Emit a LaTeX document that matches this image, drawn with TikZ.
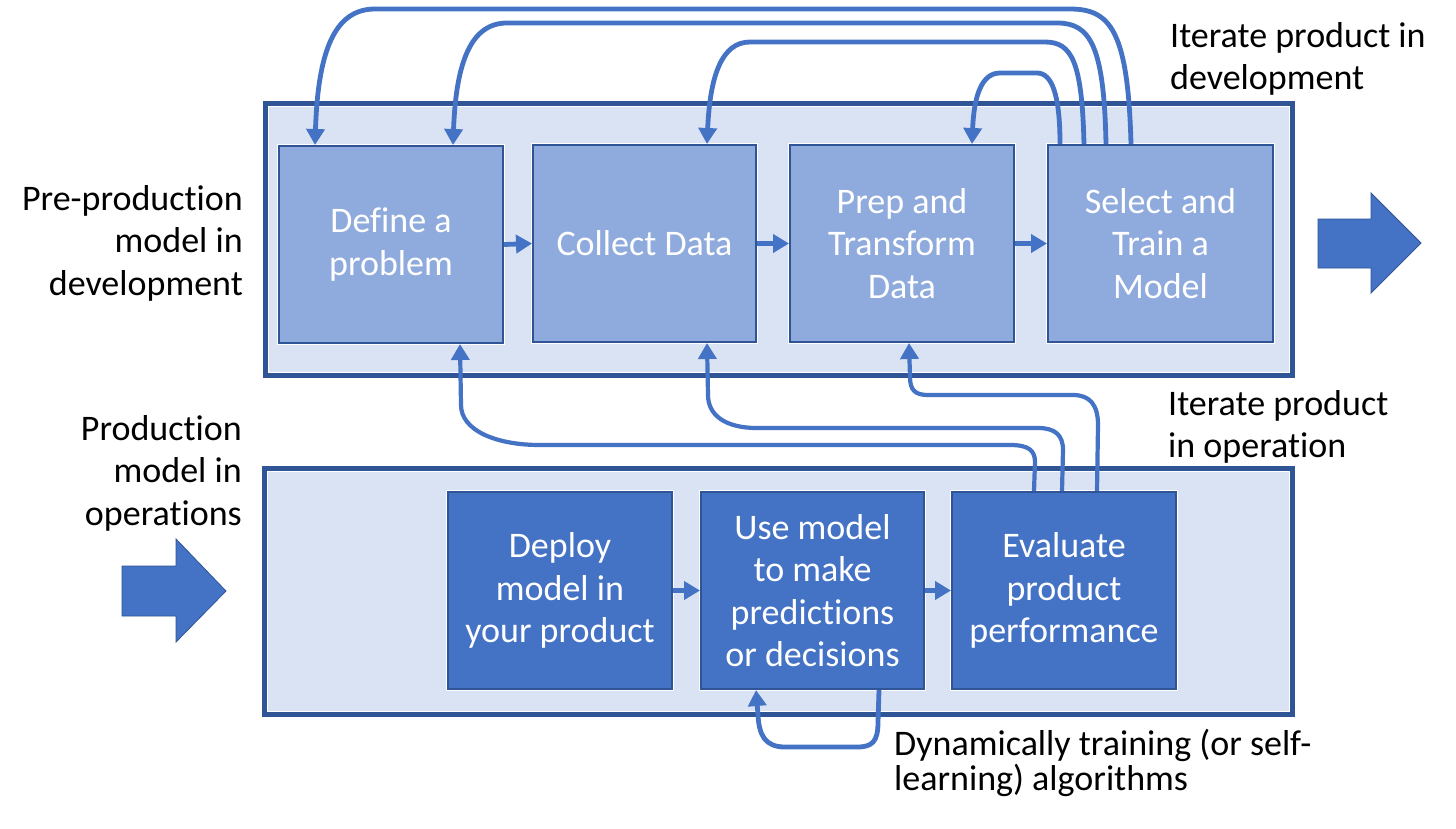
\documentclass[tikz,border=0pt]{standalone}
\usepackage{fontspec}
\setmainfont{Carlito}[Ligatures={NoCommon}]
\usetikzlibrary{arrows.meta,calc}
\definecolor{bgl}{HTML}{DAE3F3}
\definecolor{dkb}{HTML}{2F5597}
\definecolor{midb}{HTML}{8FAADC}
\definecolor{acc}{HTML}{4472C4}
\tikzset{
  txt/.style={font=\fontsize{36}{42.5}\selectfont, inner sep=0pt},
  txttight/.style={font=\fontsize{36}{35.5}\selectfont, inner sep=0pt},
  topbox/.style={txt, draw=dkb, line width=2pt, fill=midb, text=white, align=center,
     minimum width=224pt, minimum height=197pt,
     preaction={draw=white, line width=4pt}},
  botbox/.style={topbox, fill=acc},
  conn/.style={draw=acc, line width=4.8pt, -{Triangle[width=18pt,length=16pt]}},
  connb/.style={conn, line width=4.2pt},
  outer/.style={draw=dkb, line width=5pt, fill=bgl},
  outerin/.style={draw=white, line width=1.2pt},
  blockarrow/.style={fill=acc, draw=dkb, line width=0.8pt},
}
\begin{document}
\begin{tikzpicture}[x=1pt, y=-1pt]
\useasboundingbox (0,0) rectangle (1456,828);
\fill[white] (0,0) rectangle (1456,828);
% outer frames
\draw[outer] (265.5,103.5) rectangle (1292.5,375.5);
\draw[outerin] (268.6,106.6) rectangle (1289.4,372.4);
\draw[outer] (264.5,468.5) rectangle (1292.5,714.5);
\draw[outerin] (267.6,471.6) rectangle (1289.4,711.4);
% block arrows
\draw[blockarrow] (1318,219)--(1371,219)--(1371,193)--(1421,243)--(1371,293)--(1371,268)--(1318,268)--cycle;
\draw[blockarrow] (122,566)--(176,566)--(176,539)--(226,591)--(176,642)--(176,616)--(122,616)--cycle;
% boxes
\node[topbox] (d1) at (391,244.5) {Define a\\problem};
\node[topbox, minimum width=223pt] (d2) at (644.5,243.5) {Collect Data};
\node[topbox] (d3) at (902,243.5) {Prep and\\Transform\\Data};
\node[topbox, minimum width=225pt] (d4) at (1160.5,243.5) {Select and\\Train a\\Model};
\node[botbox] (p1) at (560,590.5) {Deploy\\model in\\your product};
\node[botbox, minimum width=223pt] (p2) at (812.5,590.5) {Use model\\to make\\predictions\\or decisions};
\node[botbox] (p3) at (1064,590.5) {Evaluate\\product\\performance};
% labels
\node[txt, anchor=east, align=right] (l1) at (243,243) {Pre-production\\model in\\development};
\node[txt, anchor=east, align=right] (l2) at (242,473) {Production\\model in\\operations};
\node[txt, anchor=west, align=left] (l3) at (1170,59) {Iterate product in\\development};
\node[txt, anchor=west, align=left] (l4) at (1168,427) {Iterate product\\in operation};
\node[txttight, anchor=west, align=left] (l5) at (894,763) {Dynamically training (or self-\\learning) algorithms};
% straight arrows
\draw[conn] (d1.east) -- (d2.west);
\draw[conn] (d2.east) -- (d3.west);
\draw[conn] (d3.east) -- (d4.west);
\draw[conn] (p1.east) -- (p2.west);
\draw[conn] (p2.east) -- (p3.west);
% top feedback connectors
\draw[conn] ($(d4.north west)+(84,0)$) .. controls (1128,30) and (1110,9) .. (1070,9) -- (375,9) .. controls (335,9) and (318,50) .. ($(d1.north west)+(37,0)$);
\draw[conn] ($(d4.north west)+(59,0)$) .. controls (1104,45) and (1090,23) .. (1057,23) -- (507,23) .. controls (472,23) and (456,60) .. ($(d1.north west)+(175,0)$);
\draw[conn] ($(d4.north west)+(37,0)$) .. controls (1082,62) and (1072,42) .. (1045,42) -- (750,42) .. controls (722,42) and (710,75) .. ($(d2.north west)+(175,0)$);
\draw[conn] ($(d4.north west)+(13,0)$) .. controls (1060,95) and (1052,73) .. (1037,73) -- (1000,73) .. controls (982,73) and (974,95) .. ($(d3.north west)+(183,0)$);
% bottom feedback connectors
\draw[connb] ($(p3.north west)+(83,0)$) -- (1035,462) .. controls (1035,450) and (1028,445) .. (1010,445) -- (540,445) .. controls (495,445) and (461,430) .. (461,405) -- ($(d1.south west)+(182,0)$);
\draw[connb] ($(p3.north west)+(111,0)$) -- (1063,450) .. controls (1063,435) and (1055,428) .. (1038,428) -- (757,428) .. controls (725,428) and (708,415) .. (708,395) -- ($(d2.south west)+(175,0)$);
\draw[connb] ($(p3.north west)+(146,0)$) -- (1098,425) .. controls (1098,405) and (1090,395) .. (1073,395) -- (928,395) .. controls (915,395) and (910,390) .. (910,377) -- ($(d3.south west)+(120,0)$);
% self loop
\draw[conn] ($(p2.south east)+(-46,0)$) -- (878,722) .. controls (878,742) and (872,747) .. (857,747) -- (785,747) .. controls (765,747) and (759,735) .. (758,715) -- ($(p2.south west)+(56,0)$);
\end{tikzpicture}
\end{document}
